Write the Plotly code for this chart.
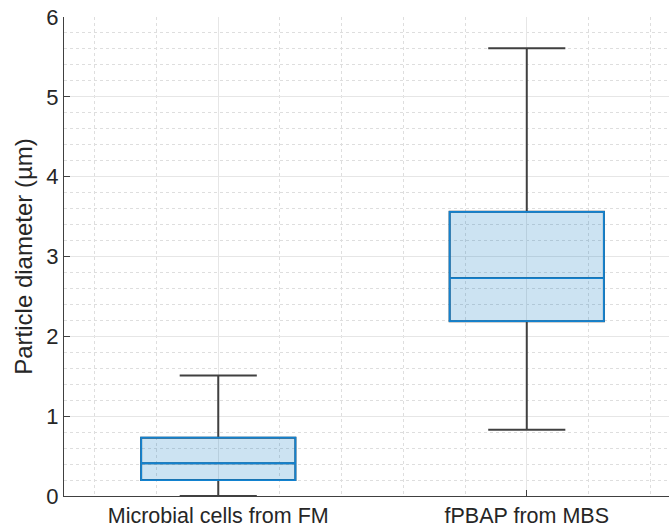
import plotly.graph_objects as go

categories = ["Microbial cells from FM", "fPBAP from MBS"]
xpos = [1, 2]
q1 = [0.20, 2.19]
median = [0.41, 2.73]
q3 = [0.73, 3.56]
lower_whisker = [0.0, 0.83]
upper_whisker = [1.51, 5.61]
yticks = [0, 1, 2, 3, 4, 5, 6]

fig = go.Figure()
for i in range(len(categories)):
    # whiskers (dark gray)
    fig.add_trace(go.Box(
        x=[xpos[i]], q1=[q1[i]], median=[median[i]], q3=[q3[i]],
        lowerfence=[lower_whisker[i]], upperfence=[upper_whisker[i]],
        width=0.5, whiskerwidth=0.5, line=dict(color="#404040", width=2),
        fillcolor="rgba(0,0,0,0)", boxpoints=False, hoverinfo="skip",
        showlegend=False))
    # box (blue, translucent)
    fig.add_trace(go.Box(
        x=[xpos[i]], q1=[q1[i]], median=[median[i]], q3=[q3[i]],
        lowerfence=[q1[i]], upperfence=[q3[i]],
        width=0.5, whiskerwidth=0, line=dict(color="#1282d0", width=1.8),
        fillcolor="rgba(0,114,189,0.2)", boxpoints=False, showlegend=False))

font = "Liberation Sans, Arial, sans-serif"
fig.update_layout(
    width=669, height=531,
    margin=dict(l=64, r=0, t=17, b=35),
    paper_bgcolor="white", plot_bgcolor="white",
    font=dict(family=font, color="#262626", size=20),
    boxmode="overlay",
)
fig.update_xaxes(
    range=[0.5, 2.461], tickmode="array", tickvals=xpos, ticktext=categories,
    showline=True, linecolor="#404040", linewidth=1,
    ticks="inside", ticklen=6, tickcolor="#404040",
    showgrid=True, gridcolor="#e6e6e6", gridwidth=1,
    minor=dict(tickmode="linear", tick0=0, dtick=0.2, showgrid=True,
               gridcolor="#dedede", griddash="dot", gridwidth=1),
    tickfont=dict(size=21.5), zeroline=False, mirror=False,
)
fig.update_yaxes(
    range=[0, 6], tickmode="array", tickvals=yticks,
    showline=True, linecolor="#404040", linewidth=1,
    ticks="inside", ticklen=6, tickcolor="#404040",
    showgrid=True, gridcolor="#e6e6e6", gridwidth=1,
    minor=dict(tickmode="linear", tick0=0, dtick=0.2, showgrid=True,
               gridcolor="#dedede", griddash="dot", gridwidth=1),
    tickfont=dict(size=22), zeroline=False,
    title=dict(text="Particle diameter (µm)", font=dict(size=24), standoff=6),
)
fig.write_html("out.html")
